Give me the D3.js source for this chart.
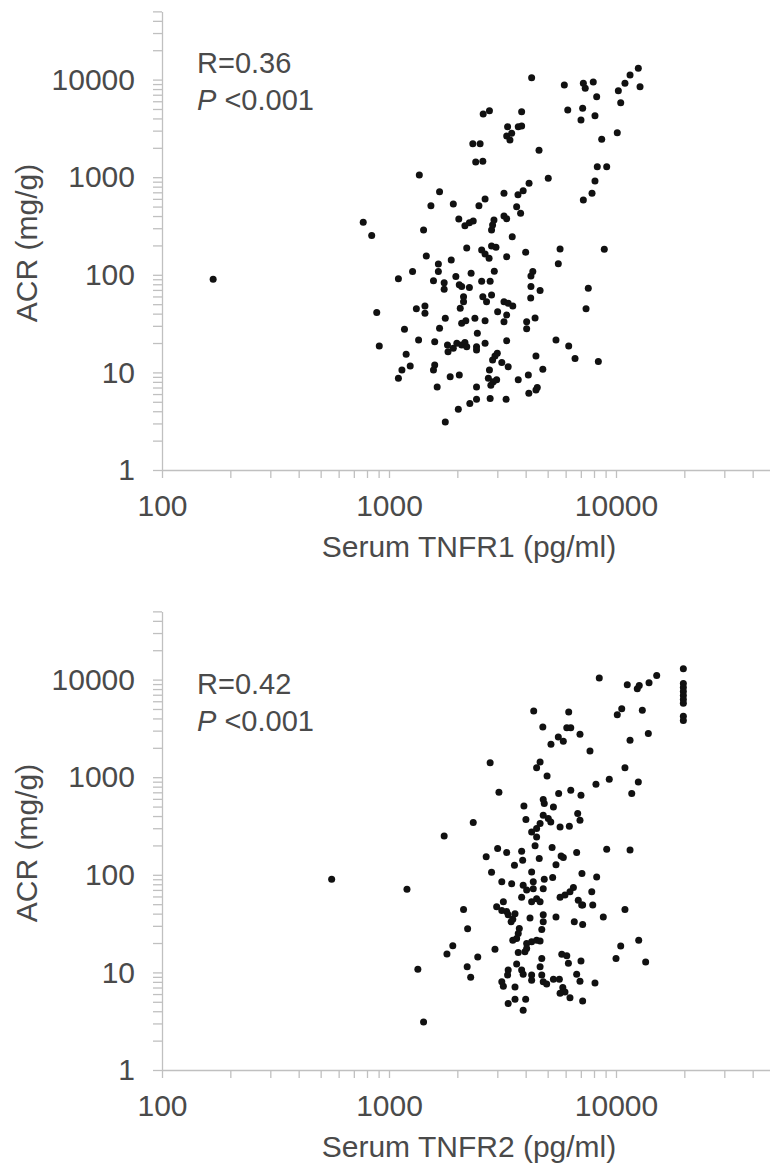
<!DOCTYPE html>
<html>
<head>
<meta charset="utf-8">
<script src="https://cdn.jsdelivr.net/npm/d3@7"></script>
<style>
body { margin: 0; background: #fff; }
svg text { font-family: 'Liberation Sans', Arial, sans-serif; fill: #4a4a4a; }
</style>
</head>
<body>
<div id="chart"></div>
<script>
// serum TNFR1 (pg/ml) vs ACR (mg/g)
const tnfr1X = [4250,5920,7180,7320,7940,8220,6130,7130,7010,8080,12540,11530,10950,10240,12760,10490,10130,8650,8270,9100,
	8080,7840,7180,8880,5670,5030,4580,3840,2600,2770,3330,3710,3840,3300,3410,3470,2340,2520,2410,2590,
	1360,1670,1530,1920,2490,2650,3210,3700,3900,4140,3650,3800,770,839,1420,2030,2160,2260,2350,2830,
	2860,2900,3210,3300,3490,2200,2830,2960,2560,2650,2760,3300,1460,1880,1650,1650,1270,1100,1570,1750,
	1750,1970,2300,2040,2090,2260,2560,2790,2910,4000,4300,4220,4220,5570,7550,168,4630,4210,7380,4400,
	4040,4040,5440,6190,6600,8360,4440,4760,4110,4500,4440,4130,883,906,1320,1440,1440,1170,1350,1190,
	1240,1140,1100,1670,1590,1590,1570,1630,1770,1860,2040,1770,2020,2270,2430,2430,2790,3280,1810,1820,
	1920,1990,2090,2160,2200,2430,2430,2650,2450,2090,2180,2390,2650,2060,2130,2130,2590,2830,2690,3010,
	3210,3350,3510,3300,3210,3300,2860,2930,3000,3140,3350,2770,2740,2880,2980,3710,2810]
const tnfr1Acr = [10460,8800,9170,8150,9450,6680,4880,5080,3860,4270,13060,11150,9170,7700,8460,5800,2860,2445,1280,1280,
	914,684,584,183,184,974,1890,4690,4440,4800,3290,3290,3350,2640,2405,2820,2200,2200,1430,1455,
	1053,710,510,531,510,598,684,662,727,866,499,427,345,252,288,373,318,342,356,288,
	324,364,400,376,246,188,197,191,180,163,148,153,156,142,129,108,108,91,87,83,
	71,96,104,79,76,74,86,86,109,170,108,97,76,130,73,90,69,58,45,36,
	33,28,21.5,18.6,13.9,12.9,14.7,10.8,9.4,7.0,6.6,6.1,41,18.6,45,47.9,40.3,27.6,21.5,15.3,
	11.6,10.6,8.7,28.3,20.6,11.9,10.6,7.1,35.8,9.0,9.4,3.1,4.2,4.8,5.3,7.1,5.4,5.3,19.1,16.3,
	17.7,19.9,19.1,20.2,18.3,18.3,17.0,19.9,25.2,31.8,33.9,35.8,33.9,45.4,53,59.6,59.6,62.1,53,41.9,
	53,51,47.9,38.7,33.1,21.1,13.4,14.7,15.7,12.6,11.4,10.6,8.7,8.0,8.4,8.4,7.4]

// serum TNFR2 (pg/ml) vs ACR (mg/g)
const tnfr2X = [19800,19800,19800,19800,19800,19800,19800,19800,19800,15110,13980,12410,12660,11210,8440,10600,10130,13060,13880,11530,
	10950,12540,11730,8160,9340,7680,6940,6190,4340,4760,6070,6320,5570,5860,5170,2790,4630,4470,4970,3050,
	5590,6320,7010,3930,4780,4830,5300,4010,4780,5030,5160,5670,6230,6780,6940,2350,1750,4630,4470,4250,
	4470,9100,4400,5230,3010,3300,3840,3880,2680,5730,5860,6710,4590,3570,5440,2830,4250,7080,8220,11530,
	3140,3470,3900,4040,4320,4320,4830,5260,3840,4470,4630,4250,4780,5670,5960,6270,6490,6820,7130,7820,
	7900,7060,1200,2130,3190,2980,3140,3300,559,3510,3450,3590,3350,4180,4780,4780,5440,6550,7130,8790,
	2220,1910,1800,2460,2930,3750,3710,3650,3510,4710,4040,4250,4470,4630,4040,3970,3710,4710,5770,6070,
	6170,7010,10000,10490,1340,2210,2290,3650,3350,3330,3840,3900,3140,3190,3590,4250,4250,4630,4710,4780,
	4950,5300,5630,6710,6940,8080,5830,5960,5670,6270,7130,3350,3590,4000,3900,1420,10950,12590,13510]
const tnfr2Acr = [12930,9140,8320,7570,6890,6270,5710,4200,3820,11040,9300,8070,8720,8870,10360,5040,4370,4840,2800,2390,
	1250,893,679,846,952,1850,2750,4650,4760,3270,3220,3220,2580,2330,2170,1410,1430,1250,1030,700,
	679,734,653,507,590,537,495,368,407,377,348,309,314,424,362,343,250,335,298,275,
	244,183,198,190,186,169,174,141,153,156,150,169,147,125,127,106,107,103,95,179,
	85,81,78,70,85,72,90,94,59,57,53,53,72,59,62,67,74,55,49,67,
	49,49,71,44,53,47,43,42,90,35,33,40,39,36,39,33,37,33,31,37,
	28,18.7,15.4,14.4,17.3,28.2,25.1,22.3,21.4,27.5,19.8,20.6,21.4,21,17.6,16.3,16.0,13.9,15.3,14.8,
	12.4,13.1,13.9,18.6,10.8,11.4,8.9,12.2,10.6,9.4,10.6,9.6,8.0,7.2,7.1,9.4,8.3,11.4,9.4,8.0,
	7.6,8.5,8.5,9.6,8.1,7.8,7.0,6.3,6.1,5.5,5.1,4.8,5.3,5.3,4.1,3.1,44,21.4,12.8]

const xMajor = [100, 1000, 10000]
const yMajor = [1, 10, 100, 1000, 10000]

const svg = d3.select('#chart')
	.append('svg')
	.attr('width', 770)
	.attr('height', 1169)

function createScatter(base, xs, ys, xLabel, rText, rY){

	let xScale = d3.scaleLog()
		.domain([100, 50000])
		.range([162, 162 + 227 * Math.log10(500)])

	let yScale = d3.scaleLog()
		.domain([1, 50000])
		.range([base, base - 97.6 * Math.log10(50000)])

	let xAxis = g => g.attr('transform', `translate(0,${base})`)
		.call(d3.axisBottom(xScale)
			.tickValues(xScale.ticks())
			.tickSize(8)
			.tickSizeOuter(0)
			.tickPadding(17)
			.tickFormat(d => xMajor.includes(d) ? d : ''))

	let yAxis = g => g.attr('transform', 'translate(162,0)')
		.call(d3.axisLeft(yScale)
			.tickValues(yScale.ticks())
			.tickSize(9)
			.tickSizeOuter(0)
			.tickPadding(18)
			.tickFormat(d => yMajor.includes(d) ? d : ''))

	let xG = svg.append('g').call(xAxis)
	let yG = svg.append('g').call(yAxis)

	;[xG, yG].forEach(function(g){
		g.selectAll('path').attr('stroke', '#c0c0c0').attr('stroke-width', 1.3)
		g.selectAll('line').attr('stroke', '#c0c0c0').attr('stroke-width', 1.3)
		g.selectAll('text')
			.attr('fill', '#4a4a4a')
			.attr('font-size', 30)
			.attr('font-family', "'Liberation Sans', Arial, sans-serif")
	})

	svg.append('g')
		.selectAll('circle')
		.data(xs.map((x, i) => ({x: x, acr: ys[i]})))
		.enter()
		.append('circle')
		.attr('cx', d => xScale(d.x))
		.attr('cy', d => yScale(d.acr))
		.attr('r', 3.5)
		.attr('fill', '#111')

	svg.append('text')
		.attr('x', 469)
		.attr('y', base + 87)
		.attr('text-anchor', 'middle')
		.attr('font-size', 30)
		.text(xLabel)

	svg.append('text')
		.attr('transform', `translate(37,${base - 227}) rotate(-90)`)
		.attr('text-anchor', 'middle')
		.attr('font-size', 30)
		.text('ACR (mg/g)')

	svg.append('text')
		.attr('x', 197)
		.attr('y', rY)
		.attr('font-size', 29)
		.text(rText)

	let p = svg.append('text')
		.attr('x', 197)
		.attr('y', rY + 37)
		.attr('font-size', 29)
	p.append('tspan').attr('font-style', 'italic').text('P')
	p.append('tspan').text(' <0.001')
}

createScatter(470, tnfr1X, tnfr1Acr, 'Serum TNFR1 (pg/ml)', 'R=0.36', 73)
createScatter(1070, tnfr2X, tnfr2Acr, 'Serum TNFR2 (pg/ml)', 'R=0.42', 694)
</script>
</body>
</html>
